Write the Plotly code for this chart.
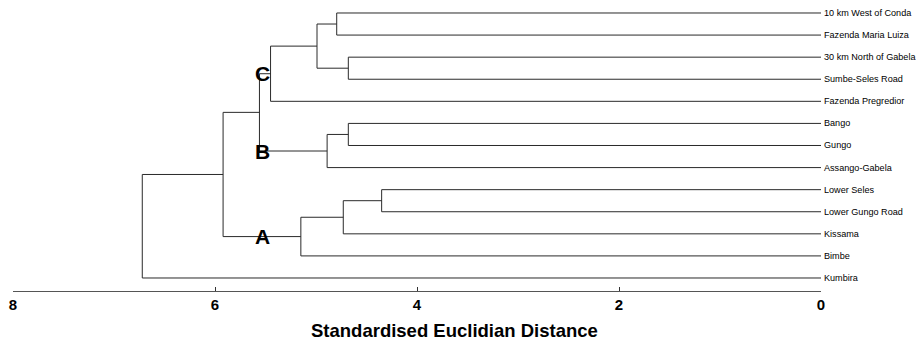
import plotly.graph_objects as go

# ---- data ----
leaf_labels = [
    "10 km West of Conda", "Fazenda Maria Luiza", "30 km North of Gabela",
    "Sumbe-Seles Road", "Fazenda Pregredior", "Bango", "Gungo",
    "Assango-Gabela", "Lower Seles", "Lower Gungo Road", "Kissama",
    "Bimbe", "Kumbira",
]
# merges: (child_a, child_b, distance); ids 0..12 are leaves, 13.. are merges in order
merge_a = [0, 2, 13, 15, 5, 17, 16, 8, 20, 21, 19, 23]
merge_b = [1, 3, 14, 4, 6, 7, 18, 9, 10, 11, 22, 12]
merge_h = [4.795, 4.68, 4.99, 5.45, 4.68, 4.89, 5.56, 4.35, 4.73, 5.15, 5.92, 6.72]
group_names = ["C", "B", "A"]
group_nodes = [16, 18, 22]
group_label_x = 5.53
tick_vals = [8, 6, 4, 2, 0]
axis_title = "Standardised Euclidian Distance"

# ---- layout of tree ----
n = len(leaf_labels)
ypos = {i: (n - 1 - i) for i in range(n)}
xpos = {i: 0.0 for i in range(n)}
xs, ys = [], []
for k, (a, b, h) in enumerate(zip(merge_a, merge_b, merge_h)):
    node = n + k
    ya, yb = ypos[a], ypos[b]
    xs += [xpos[a], h, h, xpos[b], None]
    ys += [ya, ya, yb, yb, None]
    xpos[node] = h
    ypos[node] = (ya + yb) / 2

fig = go.Figure()
fig.add_trace(go.Scatter(x=xs, y=ys, mode="lines",
                         line=dict(color="#2a2a2a", width=1),
                         hoverinfo="skip", showlegend=False))

for i, lab in enumerate(leaf_labels):
    fig.add_annotation(x=0, y=ypos[i], text=lab, showarrow=False,
                       xanchor="left", yanchor="middle", xshift=1,
                       font=dict(family="Liberation Sans, Arial", size=9.1, color="#000"))

for name, node in zip(group_names, group_nodes):
    fig.add_annotation(x=group_label_x, y=ypos[node], text="<b>%s</b>" % name,
                       showarrow=False, xanchor="center", yanchor="middle",
                       font=dict(family="Liberation Sans, Arial", size=21, color="#000"))

# axis title (centred on the page, below tick labels)
fig.add_annotation(xref="paper", yref="paper", x=0.547, y=-0.1413,
                   text="<b>%s</b>" % axis_title, showarrow=False,
                   xanchor="center", yanchor="middle",
                   font=dict(family="Liberation Sans, Arial", size=18.5, color="#000"))

fig.update_layout(
    width=916, height=335,
    margin=dict(l=5, r=103, t=0, b=52),
    plot_bgcolor="white", paper_bgcolor="white",
    xaxis=dict(range=[8, 0], tickvals=tick_vals,
               ticktext=["<b>%d</b>" % v for v in tick_vals],
               showgrid=False, zeroline=False,
               showline=True, linecolor="#555", linewidth=1,
               ticks="inside", ticklen=4, tickcolor="#333",
               tickfont=dict(family="Liberation Sans Narrow, Arial Narrow, Liberation Sans", size=15, color="#000")),
    yaxis=dict(range=[-0.589, 12.226], visible=False, fixedrange=True),
)

fig.write_html("out.html")
